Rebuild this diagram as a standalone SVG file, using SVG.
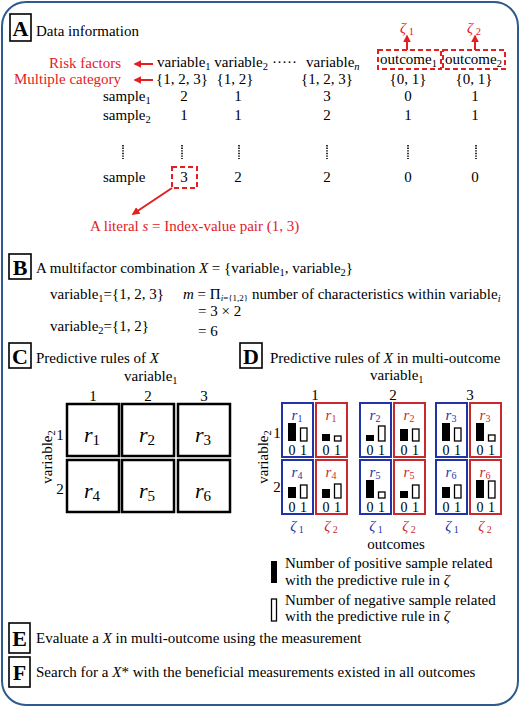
<svg xmlns="http://www.w3.org/2000/svg" width="520" height="708" viewBox="0 0 520 708">
<style>
text{font-family:"Liberation Serif","Times New Roman",serif;font-size:15px;fill:#000}
.red{fill:#e3201f}
.c{text-anchor:middle}
.lb{font-weight:bold;font-size:22px;text-anchor:middle}
.lbox{fill:#fff;stroke:#000;stroke-width:1.6}
.it{font-style:italic}
.dash{fill:none;stroke:#e3201f;stroke-width:2;stroke-dasharray:5,3}
.vd{stroke:#000;stroke-width:1.6;stroke-dasharray:1.4,1.2}
.cell{fill:#fff;stroke:#000;stroke-width:2.5}
.bb{fill:#fff;stroke:#2233aa;stroke-width:2}
.rb{fill:#fff;stroke:#c62a2f;stroke-width:2}
.bt{fill:#2233aa}
.rt{fill:#c62a2f}
.kb{fill:#000}
.wb{fill:#fff;stroke:#000;stroke-width:1.3}
.ar{stroke:#e3201f;stroke-width:2;fill:none;marker-end:url(#ah)}
.rl{font-style:italic;font-size:22px;text-anchor:middle}
.rs{font-size:15px;font-style:normal}
.dr{font-style:italic;font-size:15px;text-anchor:middle}
.ds{font-size:10px;font-style:normal}
.dg{font-size:14px;text-anchor:middle}
.sb{font-size:10.5px}
</style>
<defs>
<marker id="ah" viewBox="0 0 10 10" refX="8" refY="5" markerWidth="4" markerHeight="4" orient="auto"><path d="M0,0L10,5L0,10z" fill="#e3201f"/></marker>
</defs>
<rect x="2" y="2" width="516" height="703" rx="24" fill="#fff" stroke="#2e5b8c" stroke-width="2"/>

<g id="secA">
<rect class="lbox" x="10" y="14" width="21" height="27"/>
<text class="lb" x="20.5" y="36">A</text>
<text x="36" y="36" font-size="14">Data information</text>
<text class="red" x="49" y="68" font-size="14.5">Risk factors</text>
<text class="red" x="14" y="84" font-size="14.5">Multiple category</text>
<text x="157" y="67">variable<tspan class="sb" dy="3">1</tspan><tspan dy="-3"> variable</tspan><tspan class="sb" dy="3">2</tspan></text>
<text x="272" y="67">·····</text>
<text x="306" y="67">variable<tspan class="sb" dy="3" font-style="italic">n</tspan></text>
<text class="c" x="182" y="84">{1, 2, 3}</text>
<text class="c" x="235" y="84">{1, 2}</text>
<text class="c" x="327" y="84">{1, 2, 3}</text>
<text class="c" x="408" y="84">{0, 1}</text>
<text class="c" x="474" y="84">{0, 1}</text>
<text x="103" y="101">sample<tspan class="sb" dy="3">1</tspan></text>
<text x="103" y="120">sample<tspan class="sb" dy="3">2</tspan></text>
<text x="103" y="182">sample</text>
<text class="c" x="184" y="101">2</text><text class="c" x="238" y="101">1</text><text class="c" x="327" y="101">3</text><text class="c" x="408" y="101">0</text><text class="c" x="475" y="101">1</text>
<text class="c" x="184" y="120">1</text><text class="c" x="238" y="120">1</text><text class="c" x="327" y="120">2</text><text class="c" x="408" y="120">1</text><text class="c" x="475" y="120">1</text>
<text class="c" x="184" y="182">3</text><text class="c" x="238" y="182">2</text><text class="c" x="327" y="182">2</text><text class="c" x="408" y="182">0</text><text class="c" x="475" y="182">0</text>
<line class="vd" x1="123" y1="145" x2="123" y2="159"/>
<line class="vd" x1="182" y1="145" x2="182" y2="159"/>
<line class="vd" x1="239" y1="145" x2="239" y2="159"/>
<line class="vd" x1="327" y1="145" x2="327" y2="159"/>
<line class="vd" x1="408" y1="145" x2="408" y2="159"/>
<line class="vd" x1="476" y1="145" x2="476" y2="159"/>
<rect class="dash" x="378" y="50" width="63" height="19"/>
<text x="380" y="64">outcome<tspan class="sb" dy="3">1</tspan></text>
<rect class="dash" x="443" y="50" width="62" height="19"/>
<text x="445" y="64">outcome<tspan class="sb" dy="3">2</tspan></text>
<text class="red it" x="400" y="33">ζ<tspan class="sb" dy="2" font-style="normal"> 1</tspan></text>
<text class="red it" x="467" y="33">ζ<tspan class="sb" dy="2" font-style="normal"> 2</tspan></text>
<rect class="dash" x="172" y="167" width="25" height="21"/>
<text class="red" x="90" y="231">A literal <tspan font-style="italic">s</tspan> = Index-value pair (1, 3)</text>
</g>

<g id="connectors">
<line class="ar" x1="153" y1="64" x2="135" y2="64"/>
<line class="ar" x1="153" y1="80" x2="135" y2="80"/>
<line class="ar" x1="407" y1="50" x2="407" y2="36"/>
<line class="ar" x1="475" y1="50" x2="475" y2="36"/>
<line class="ar" x1="172" y1="188" x2="133" y2="214"/>
</g>

<g id="secB">
<rect class="lbox" x="9" y="254" width="22" height="25"/>
<text class="lb" x="20" y="275">B</text>
<text x="36" y="273">A multifactor combination <tspan font-style="italic">X</tspan> = {variable<tspan class="sb" dy="3">1</tspan><tspan dy="-3">, variable</tspan><tspan class="sb" dy="3">2</tspan><tspan dy="-3">}</tspan></text>
<text x="50" y="299">variable<tspan class="sb" dy="3">1</tspan><tspan dy="-3">={1, 2, 3}</tspan></text>
<text x="183" y="299"><tspan font-style="italic">m</tspan> = Π<tspan font-size="9" dy="2"><tspan font-style="italic">i</tspan>={1,2}</tspan><tspan dy="-2"> number of characteristics within variable</tspan><tspan class="sb" dy="3" font-style="italic">i</tspan></text>
<text x="198" y="316">= 3 × 2</text>
<text x="50" y="331">variable<tspan class="sb" dy="3">2</tspan><tspan dy="-3">={1, 2}</tspan></text>
<text x="198" y="336">= 6</text>
</g>

<g id="secC">
<rect class="lbox" x="9" y="343" width="22" height="25"/>
<text class="lb" x="20" y="364">C</text>
<text x="36" y="363">Predictive rules of <tspan font-style="italic">X</tspan></text>
<text x="124" y="381">variable<tspan class="sb" dy="3">1</tspan></text>
<text class="c" x="93" y="401">1</text><text class="c" x="148" y="401">2</text><text class="c" x="204" y="401">3</text>
<text class="c" x="60" y="440">1</text><text class="c" x="60" y="494">2</text>
<text class="c" transform="translate(52,457) rotate(-90)">variable<tspan class="sb" dy="3">2</tspan></text>
</g>
<g id="r1"><rect class="cell" x="67" y="404" width="52" height="52"/><text class="rl" x="92" y="442">r<tspan class="rs" dy="3">1</tspan></text></g>
<g id="r2"><rect class="cell" x="122" y="404" width="52" height="52"/><text class="rl" x="147" y="442">r<tspan class="rs" dy="3">2</tspan></text></g>
<g id="r3"><rect class="cell" x="178" y="404" width="52" height="52"/><text class="rl" x="203" y="442">r<tspan class="rs" dy="3">3</tspan></text></g>
<g id="r4"><rect class="cell" x="67" y="460" width="52" height="52"/><text class="rl" x="92" y="498">r<tspan class="rs" dy="3">4</tspan></text></g>
<g id="r5"><rect class="cell" x="122" y="460" width="52" height="52"/><text class="rl" x="147" y="498">r<tspan class="rs" dy="3">5</tspan></text></g>
<g id="r6"><rect class="cell" x="178" y="460" width="52" height="52"/><text class="rl" x="203" y="498">r<tspan class="rs" dy="3">6</tspan></text></g>

<g id="secD">
<rect class="lbox" x="240" y="343" width="22" height="25"/>
<text class="lb" x="251" y="364">D</text>
<text x="270" y="363">Predictive rules of <tspan font-style="italic">X</tspan> in multi-outcome</text>
<text x="370" y="380">variable<tspan class="sb" dy="3">1</tspan></text>
<text class="c" x="315" y="400">1</text><text class="c" x="393" y="400">2</text><text class="c" x="470" y="400">3</text>
<text class="c" x="277" y="438">1</text><text class="c" x="277" y="492">2</text>
<text class="c" transform="translate(268,457) rotate(-90)">variable<tspan class="sb" dy="3">2</tspan></text>
<text class="c" x="396" y="549" font-size="14">outcomes</text>
<text class="dr bt" x="297" y="531">ζ<tspan class="ds" dy="2"> 1</tspan></text>
<text class="dr rt" x="331" y="531">ζ<tspan class="ds" dy="2"> 2</tspan></text>
<text class="dr bt" x="376" y="531">ζ<tspan class="ds" dy="2"> 1</tspan></text>
<text class="dr rt" x="409" y="531">ζ<tspan class="ds" dy="2"> 2</tspan></text>
<text class="dr bt" x="452" y="531">ζ<tspan class="ds" dy="2"> 1</tspan></text>
<text class="dr rt" x="485" y="531">ζ<tspan class="ds" dy="2"> 2</tspan></text>
</g>

<g id="d-b1"><rect class="bb" x="282" y="403" width="31" height="54"/><text class="dr bt" x="297" y="420">r<tspan class="ds" dy="2">1</tspan></text><rect class="kb" x="288" y="423" width="8" height="18"/><rect class="wb" x="300.5" y="428" width="6.5" height="13"/><text class="dg" x="292" y="455">0</text><text class="dg" x="303.5" y="455">1</text></g>
<g id="d-r1"><rect class="rb" x="316" y="403" width="31" height="54"/><text class="dr rt" x="331" y="420">r<tspan class="ds" dy="2">1</tspan></text><rect class="kb" x="322" y="434" width="8" height="7"/><rect class="wb" x="334.5" y="436" width="6.5" height="5"/><text class="dg" x="326" y="455">0</text><text class="dg" x="337.5" y="455">1</text></g>
<g id="d-b2"><rect class="bb" x="360" y="403" width="31" height="54"/><text class="dr bt" x="375" y="420">r<tspan class="ds" dy="2">2</tspan></text><rect class="kb" x="366" y="435" width="8" height="6"/><rect class="wb" x="378.5" y="426" width="6.5" height="15"/><text class="dg" x="370" y="455">0</text><text class="dg" x="381.5" y="455">1</text></g>
<g id="d-r2"><rect class="rb" x="394" y="403" width="31" height="54"/><text class="dr rt" x="409" y="420">r<tspan class="ds" dy="2">2</tspan></text><rect class="kb" x="400" y="429" width="8" height="12"/><rect class="wb" x="412.5" y="429" width="6.5" height="12"/><text class="dg" x="404" y="455">0</text><text class="dg" x="415.5" y="455">1</text></g>
<g id="d-b3"><rect class="bb" x="436" y="403" width="31" height="54"/><text class="dr bt" x="451" y="420">r<tspan class="ds" dy="2">3</tspan></text><rect class="kb" x="442" y="423" width="8" height="18"/><rect class="wb" x="454.5" y="428" width="6.5" height="13"/><text class="dg" x="446" y="455">0</text><text class="dg" x="457.5" y="455">1</text></g>
<g id="d-r3"><rect class="rb" x="470" y="403" width="31" height="54"/><text class="dr rt" x="485" y="420">r<tspan class="ds" dy="2">3</tspan></text><rect class="kb" x="476" y="423" width="8" height="18"/><rect class="wb" x="488.5" y="435" width="6.5" height="6"/><text class="dg" x="480" y="455">0</text><text class="dg" x="491.5" y="455">1</text></g>

<g id="d-b4"><rect class="bb" x="282" y="460" width="31" height="54"/><text class="dr bt" x="297" y="477">r<tspan class="ds" dy="2">4</tspan></text><rect class="kb" x="288" y="487" width="8" height="11"/><rect class="wb" x="300.5" y="485" width="6.5" height="13"/><text class="dg" x="292" y="512">0</text><text class="dg" x="303.5" y="512">1</text></g>
<g id="d-r4"><rect class="rb" x="316" y="460" width="31" height="54"/><text class="dr rt" x="331" y="477">r<tspan class="ds" dy="2">4</tspan></text><rect class="kb" x="322" y="489" width="8" height="9"/><rect class="wb" x="334.5" y="484" width="6.5" height="14"/><text class="dg" x="326" y="512">0</text><text class="dg" x="337.5" y="512">1</text></g>
<g id="d-b5"><rect class="bb" x="360" y="460" width="31" height="54"/><text class="dr bt" x="375" y="477">r<tspan class="ds" dy="2">5</tspan></text><rect class="kb" x="366" y="480" width="8" height="18"/><rect class="wb" x="378.5" y="492" width="6.5" height="6"/><text class="dg" x="370" y="512">0</text><text class="dg" x="381.5" y="512">1</text></g>
<g id="d-r5"><rect class="rb" x="394" y="460" width="31" height="54"/><text class="dr rt" x="409" y="477">r<tspan class="ds" dy="2">5</tspan></text><rect class="kb" x="400" y="491" width="8" height="7"/><rect class="wb" x="412.5" y="485" width="6.5" height="13"/><text class="dg" x="404" y="512">0</text><text class="dg" x="415.5" y="512">1</text></g>
<g id="d-b6"><rect class="bb" x="436" y="460" width="31" height="54"/><text class="dr bt" x="451" y="477">r<tspan class="ds" dy="2">6</tspan></text><rect class="kb" x="442" y="487" width="8" height="11"/><rect class="wb" x="454.5" y="485" width="6.5" height="13"/><text class="dg" x="446" y="512">0</text><text class="dg" x="457.5" y="512">1</text></g>
<g id="d-r6"><rect class="rb" x="470" y="460" width="31" height="54"/><text class="dr rt" x="485" y="477">r<tspan class="ds" dy="2">6</tspan></text><rect class="kb" x="476" y="480" width="8" height="18"/><rect class="wb" x="488.5" y="481" width="6.5" height="17"/><text class="dg" x="480" y="512">0</text><text class="dg" x="491.5" y="512">1</text></g>

<g id="legend">
<rect class="kb" x="271" y="561" width="6" height="22"/>
<text x="285" y="568">Number of positive sample related</text>
<text x="285" y="585">with the predictive rule in <tspan font-style="italic">ζ</tspan></text>
<rect class="wb" x="271.5" y="599" width="5" height="22"/>
<text x="285" y="605">Number of negative sample related</text>
<text x="285" y="621">with the predictive rule in <tspan font-style="italic">ζ</tspan></text>
</g>

<g id="secE">
<rect class="lbox" x="9" y="623" width="21" height="30"/>
<text class="lb" x="19.5" y="646">E</text>
<text x="36" y="643">Evaluate a <tspan font-style="italic">X</tspan> in multi-outcome using the measurement</text>
</g>
<g id="secF">
<rect class="lbox" x="9" y="657" width="21" height="30"/>
<text class="lb" x="19.5" y="680">F</text>
<text x="36" y="677">Search for a <tspan font-style="italic">X</tspan>* with the beneficial measurements existed in all outcomes</text>
</g>
</svg>
